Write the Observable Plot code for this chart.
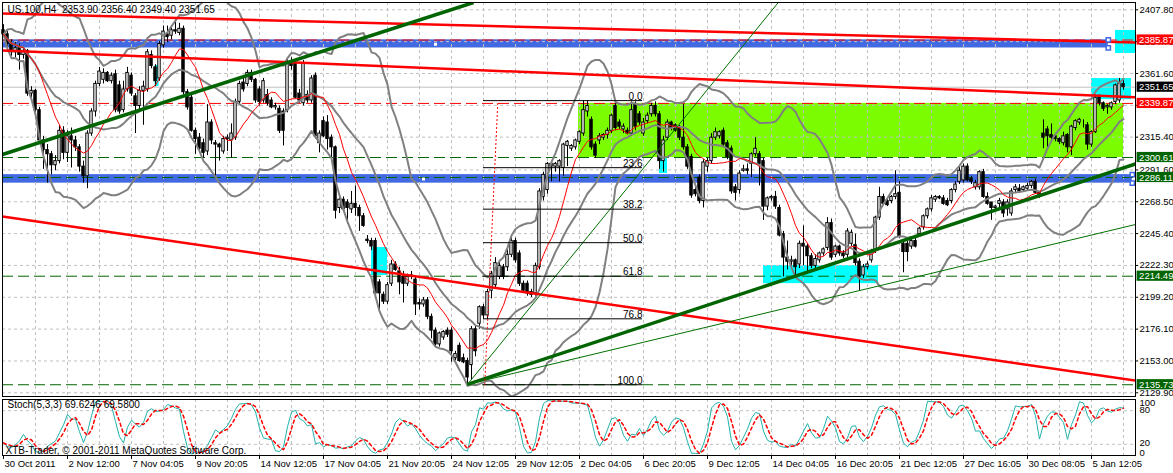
<!DOCTYPE html>
<html>
<head>
<meta charset="utf-8">
<script src="https://cdn.jsdelivr.net/npm/d3@7"></script>
<script src="https://cdn.jsdelivr.net/npm/@observablehq/plot@0.6"></script>
<style>
  body { margin: 0; background: #fff; }
  #chart { position: relative; width: 1173px; height: 473px; overflow: hidden; }
  #chart svg { position: absolute; left: 0; display: block; }
</style>
</head>
<body>
<div id="chart"></div>
<script>
// US.100 H4 candles (one per 4px column)
const opens = [
  2393,2390,2383,2377,2380,2375,2378,2347,2349,2335, 2313,2306,2303,2295,2298,2320,2304,2316,2313,2308,
  2294,2287,2318,2334,2354,2357,2362,2356,2361,2353, 2335,2350,2360,2345,2338,2349,2350,2375,2366,2358,
  2382,2390,2389,2393,2391,2394,2348,2344,2320,2315, 2311,2305,2326,2311,2310,2305,2314,2313,2315,2341,
  2355,2354,2362,2357,2350,2342,2346,2342,2337,2336, 2334,2335,2370,2369,2347,2340,2346,2342,2360,2311,
  2327,2326,2315,2308,2264,2270,2268,2263,2267,2264, 2258,2241,2240,2240,2210,2201,2196,2209,2223,2218,
  2214,2209,2215,2212,2195,2194,2197,2185,2175,2165, 2170,2175,2175,2155,2164,2155,2153,2150,2176,2180,
  2192,2186,2204,2208,2214,2221,2221,2230,2240,2231, 2209,2209,2201,2202,2221,2272,2277,2296,2294,2294,
  2293,2309,2307,2308,2312,2318,2334,2328,2310,2313, 2315,2317,2320,2338,2326,2321,2320,2318,2339,2332,
  2318,2327,2332,2338,2332,2298,2315,2326,2324,2322, 2315,2308,2301,2277,2286,2269,2294,2298,2315,2316,
  2320,2311,2307,2279,2277,2291,2292,2296,2303,2303, 2298,2265,2271,2272,2264,2245,2228,2225,2226,2223,
  2238,2236,2229,2222,2226,2231,2235,2253,2230,2236, 2231,2230,2238,2237,2225,2215,2221,2226,2233,2257,
  2272,2269,2269,2272,2275,2238,2238,2236,2240,2245, 2250,2258,2263,2270,2272,2271,2269,2269,2277,2283,
  2284,2294,2285,2279,2279,2290,2272,2268,2264,2267, 2268,2263,2260,2277,2278,2277,2278,2280,2283,2275,
  2318,2321,2317,2316,2314,2311,2317,2308,2322,2326, 2326,2324,2310,2319,2344,2340,2337,2337,2341,2342,
  2353.9
];
const highs = [
  2397,2392,2386,2384,2383,2380,2379,2352,2350,2337, 2316,2310,2305,2302,2324,2323,2320,2322,2316,2310,
  2298,2320,2336,2356,2366,2365,2363,2362,2364,2356, 2356,2366,2362,2347,2352,2356,2379,2378,2368,2385,
  2396,2396,2396,2401,2398,2396,2350,2346,2322,2318, 2314,2339,2328,2313,2311,2316,2317,2325,2343,2356,
  2358,2364,2364,2358,2352,2358,2350,2344,2340,2338, 2336,2372,2373,2371,2350,2371,2349,2360,2362,2320,
  2330,2331,2317,2309,2272,2272,2270,2276,2280,2266, 2260,2244,2242,2242,2212,2203,2210,2226,2225,2221,
  2218,2216,2218,2214,2198,2199,2199,2187,2177,2174, 2175,2177,2177,2160,2166,2158,2155,2178,2178,2193,
  2194,2205,2218,2228,2226,2223,2236,2242,2242,2233, 2211,2211,2205,2224,2278,2290,2297,2298,2297,2299,
  2311,2313,2310,2314,2320,2342,2342,2330,2312,2318, 2318,2322,2332,2341,2328,2325,2322,2341,2341,2334,
  2329,2333,2340,2341,2334,2316,2328,2327,2325,2324, 2339,2310,2303,2279,2288,2299,2300,2318,2322,2320,
  2322,2313,2309,2281,2291,2295,2296,2304,2315,2305, 2300,2272,2273,2276,2266,2247,2240,2229,2227,2240,
  2251,2238,2231,2230,2232,2235,2257,2256,2237,2237, 2233,2249,2248,2245,2227,2223,2225,2234,2258,2279,
  2274,2271,2273,2291,2283,2240,2240,2241,2242,2250, 2259,2264,2273,2273,2273,2273,2271,2278,2283,2295,
  2296,2296,2287,2284,2291,2292,2275,2268,2266,2271, 2270,2270,2278,2281,2281,2280,2282,2284,2285,2276,
  2328,2323,2325,2318,2315,2319,2318,2324,2328,2329, 2328,2326,2320,2346,2346,2341,2339,2341,2354,2358,
  2356.4
];
const lows = [
  2388,2381,2374,2373,2364,2372,2345,2344,2333,2311, 2292,2282,2288,2291,2296,2299,2297,2293,2305,2290,
  2282,2278,2316,2330,2352,2354,2355,2354,2333,2332, 2333,2348,2345,2318,2335,2324,2348,2365,2352,2356,
  2380,2384,2386,2390,2389,2346,2335,2319,2303,2305, 2300,2302,2310,2286,2298,2303,2305,2300,2313,2339,
  2348,2352,2355,2340,2338,2340,2338,2336,2335,2318, 2309,2333,2364,2343,2340,2338,2340,2340,2314,2304,
  2315,2306,2298,2256,2260,2261,2252,2260,2258,2247, 2250,2238,2233,2201,2188,2194,2194,2207,2218,2201,
  2195,2207,2212,2186,2190,2192,2183,2169,2163,2163, 2168,2170,2152,2153,2152,2151,2136,2139,2156,2176,
  2183,2183,2198,2205,2212,2212,2218,2228,2224,2207, 2203,2200,2199,2200,2219,2269,2274,2283,2290,2283,
  2287,2294,2305,2306,2310,2316,2330,2306,2300,2310, 2313,2314,2318,2320,2321,2318,2317,2316,2320,2324,
  2316,2325,2330,2330,2292,2290,2313,2320,2319,2313, 2306,2292,2271,2272,2267,2264,2290,2296,2313,2314,
  2308,2299,2274,2269,2274,2290,2288,2286,2301,2280, 2255,2262,2269,2263,2243,2214,2219,2220,2214,2220,
  2222,2216,2220,2220,2224,2229,2233,2226,2228,2229, 2227,2228,2236,2222,2204,2213,2219,2224,2231,2255,
  2266,2265,2267,2270,2242,2217,2225,2234,2235,2243, 2248,2256,2261,2268,2270,2266,2265,2267,2275,2281,
  2282,2283,2281,2277,2277,2271,2266,2255,2262,2264, 2257,2258,2258,2275,2275,2276,2276,2278,2274,2271,
  2307,2308,2313,2312,2310,2309,2304,2302,2320,2324, 2322,2306,2308,2318,2338,2334,2332,2335,2339,2340,
  2349.4
];
const closes = [
  2390,2383,2377,2380,2375,2378,2347,2349,2335,2313, 2306,2303,2295,2298,2320,2304,2316,2313,2308,2294,
  2287,2318,2334,2354,2363,2362,2356,2360,2335,2334, 2350,2362,2347,2338,2349,2352,2377,2367,2356,2383,
  2392,2388,2393,2392,2394,2348,2337,2320,2314,2307, 2304,2326,2313,2310,2308,2314,2315,2318,2341,2354,
  2350,2362,2357,2342,2341,2356,2340,2337,2338,2320, 2320,2370,2367,2344,2342,2369,2342,2358,2316,2318,
  2316,2314,2308,2262,2270,2263,2264,2267,2264,2258, 2251,2240,2236,2202,2202,2196,2208,2223,2219,2210,
  2209,2214,2214,2194,2194,2197,2185,2175,2165,2173, 2174,2172,2160,2158,2153,2152,2141,2176,2160,2192,
  2186,2203,2216,2224,2222,2214,2230,2240,2226,2209, 2204,2202,2203,2222,2276,2288,2296,2294,2296,2298,
  2310,2312,2309,2313,2319,2335,2338,2308,2302,2316, 2317,2320,2331,2322,2323,2323,2318,2335,2323,2326,
  2326,2331,2338,2332,2298,2313,2326,2322,2320,2315, 2308,2294,2273,2274,2269,2297,2298,2315,2319,2319,
  2310,2301,2276,2275,2289,2292,2291,2303,2307,2296, 2265,2271,2272,2265,2244,2228,2225,2226,2221,2238,
  2236,2229,2222,2227,2231,2234,2253,2228,2236,2231, 2229,2247,2246,2224,2214,2221,2223,2232,2257,2272,
  2267,2266,2272,2274,2243,2232,2232,2240,2236,2249, 2258,2263,2271,2272,2271,2267,2266,2277,2281,2291,
  2294,2284,2283,2282,2290,2272,2267,2264,2265,2269, 2260,2268,2276,2279,2276,2279,2280,2283,2275,2272,
  2315,2316,2315,2314,2312,2316,2308,2323,2327,2328, 2326,2310,2319,2344,2340,2336,2338,2340,2353,2354,
  2351.65
];

// axis labels
const timeLabels = ["30 Oct 2011", "2 Nov 12:00", "7 Nov 04:05", "9 Nov 20:05", "14 Nov 12:05", "17 Nov 04:05",
  "21 Nov 20:05", "24 Nov 12:05", "29 Nov 12:05", "2 Dec 04:05", "6 Dec 20:05", "9 Dec 12:05",
  "14 Dec 04:05", "16 Dec 20:05", "21 Dec 12:05", "27 Dec 16:05", "30 Dec 08:05", "5 Jan 12:05"];
const labelBars = [0, 16, 32, 48, 64, 80, 96, 112, 128, 144, 160, 176, 192, 208, 224, 240, 256, 272];
const priceTicks = [2407.80, 2384.70, 2361.60, 2338.50, 2315.40, 2291.60, 2268.50, 2245.40,
  2222.30, 2199.20, 2176.10, 2153.00, 2129.90];
const stochTicks = [100, 80, 20, 0];

// horizontal lines and price markers
const redLevels = [2385.87, 2339.87];
const greenLevels = [2300.61, 2286.11, 2214.49, 2135.73];
const bidPrice = 2351.65;

// drawn objects (bar index, price)
const limeBox = [{i1: 143.75, i2: 280, p1: 2339.87, p2: 2300.61}];
const blueBands = [
  {i1: -0.25, i2: 276.2, p1: 2386.0, p2: 2380.1},
  {i1: -0.25, i2: 282.2, p1: 2288.2, p2: 2282.0}
];
const bandEnds = [{i: 276.2, p: 2386.0}, {i: 276.2, p: 2380.1}, {i: 282.2, p: 2288.2}, {i: 282.2, p: 2282.0}];
const bandMids = [{i: 108, p: 2382.8}, {i: 105, p: 2285.0}];
const cyanBoxes = [
  {i1: 37.9, i2: 38.9, p1: 2367.4, p2: 2352.1},
  {i1: 92, i2: 96, p1: 2235.3, p2: 2215.0},
  {i1: 164, i2: 166, p1: 2300.6, p2: 2289.0},
  {i1: 190, i2: 218.75, p1: 2222.2, p2: 2209.1},
  {i1: 272, i2: 282, p1: 2357.9, p2: 2342.6},
  {i1: 278, i2: 283, p1: 2392.8, p2: 2376.1}
];
const redTrends = [
  {i1: -0.25, p1: 2405.1, i2: 283, p2: 2384.1},
  {i1: -0.25, p1: 2378.3, i2: 283, p2: 2344.4},
  {i1: -0.25, p1: 2257.8, i2: 283, p2: 2138.8}
];
const greenThick = [
  {i1: -0.25, p1: 2302.8, i2: 117.5, p2: 2413.1},
  {i1: 116, p1: 2136, i2: 283, p2: 2296}
];
const greenThin = [
  {i1: 116, p1: 2136, i2: 283, p2: 2252},
  {i1: 116, p1: 2136, i2: 193.7, p2: 2413.1}
];
const fibHigh = 2341.9, fibLow = 2135.73;
const fibRatios = [0, 0.236, 0.382, 0.5, 0.618, 0.768, 1];
const fibLabels = ["0.0", "23.6", "38.2", "50.0", "61.8", "76.8", "100.0"];

const headerText = "US.100,H4  2353.90 2356.40 2349.40 2351.65";
const stochText = "Stoch(5,3,3) 69.6246 69.5800";
const copyText = "XTB-Trader, © 2001-2011 MetaQuotes Software Corp.";

const bars = closes.map((c, i) => ({i, o: opens[i], h: highs[i], l: lows[i], c}));
const fib = fibRatios.map((r, k) => ({p: fibHigh - r * (fibHigh - fibLow), label: fibLabels[k]}));

// bollinger 20,2 (population deviation like MT4)
const bbDev = v => { const m = d3.mean(v); return 2 * Math.sqrt(d3.mean(v, d => (d - m) ** 2)); };
const bbUp = v => d3.mean(v) + bbDev(v);
const bbDn = v => d3.mean(v) - bbDev(v);

// stochastic 5,3,3
const lo5 = i => d3.min(lows.slice(Math.max(0, i - 4), i + 1));
const hi5 = i => d3.max(highs.slice(Math.max(0, i - 4), i + 1));
const num = closes.map((c, i) => c - lo5(i));
const den = closes.map((c, i) => hi5(i) - lo5(i));
const stoch = closes.map((c, i) => {
  const a = Math.max(0, i - 2);
  return {i, k: 100 * d3.sum(num.slice(a, i + 1)) / d3.sum(den.slice(a, i + 1))};
});

const font = '"Liberation Sans", Arial, sans-serif';
const grid = {stroke: "#c0c0c0", strokeDasharray: "3,3"};
const gridBars = d3.range(8, 281, 8);
const xDom = [-0.25, 283];

const main = Plot.plot({
  width: 1173, height: 398,
  marginLeft: 2, marginRight: 38, marginTop: 2, marginBottom: 2,
  x: {domain: xDom, axis: null},
  y: {domain: [2127.2, 2413.1], axis: null},
  style: {fontFamily: font, fontSize: "10px", background: "white", overflow: "visible"},
  marks: [
    Plot.rect(limeBox, {x1: "i1", x2: "i2", y1: "p1", y2: "p2", fill: "#7cfc00"}),
    Plot.rect(blueBands, {x1: "i1", x2: "i2", y1: "p1", y2: "p2", fill: "#4169e1"}),
    Plot.rect(cyanBoxes, {x1: "i1", x2: "i2", y1: "p1", y2: "p2", fill: "#00ffff"}),
    Plot.ruleY(priceTicks, grid),
    Plot.ruleX(gridBars, grid),
    Plot.ruleY([bidPrice], {stroke: "#c0c0c0"}),
    Plot.ruleY(redLevels, {stroke: "#ff0000", strokeDasharray: "11,5"}),
    Plot.ruleY(greenLevels, {stroke: "#006400", strokeDasharray: "11,5"}),
    // candles
    Plot.ruleX(bars, {x: "i", y1: "l", y2: "h", stroke: "black"}),
    Plot.rect(bars, {filter: d => d.c >= d.o, x1: d => d.i - 0.3, x2: d => d.i + 0.3, y1: "o", y2: "c", fill: "white", stroke: "black"}),
    Plot.rect(bars, {filter: d => d.c < d.o, x1: d => d.i - 0.3, x2: d => d.i + 0.3, y1: "o", y2: "c", fill: "black", stroke: "black"}),
    // indicators
    Plot.lineY(bars, Plot.windowY({k: 20, anchor: "end", reduce: bbUp}, {x: "i", y: "c", stroke: "#808080", strokeWidth: 2, clip: true})),
    Plot.lineY(bars, Plot.windowY({k: 20, anchor: "end", reduce: "mean"}, {x: "i", y: "c", stroke: "#808080", strokeWidth: 2, clip: true})),
    Plot.lineY(bars, Plot.windowY({k: 20, anchor: "end", reduce: bbDn}, {x: "i", y: "c", stroke: "#808080", strokeWidth: 2, clip: true})),
    Plot.lineY(bars, Plot.windowY({k: 10, anchor: "end", reduce: "mean"}, {x: "i", y: "c", stroke: "#ff0000", strokeWidth: 1, clip: true})),
    // trend lines
    Plot.link(redTrends, {x1: "i1", y1: "p1", x2: "i2", y2: "p2", stroke: "#ff0000", strokeWidth: 2.5, clip: true}),
    Plot.link(greenThick, {x1: "i1", y1: "p1", x2: "i2", y2: "p2", stroke: "#006400", strokeWidth: 3.5, clip: true}),
    Plot.link(greenThin, {x1: "i1", y1: "p1", x2: "i2", y2: "p2", stroke: "#007000", strokeWidth: 1, clip: true}),
    // fibonacci
    Plot.ruleY(fib, {y: "p", x1: 120, x2: 159.75, stroke: "black"}),
    Plot.text(fib, {y: "p", x: 159.75, text: "label", textAnchor: "end", lineAnchor: "bottom", dy: -1, fill: "black"}),
    Plot.link([{i1: 120.3, p1: fibLow, i2: 123.6, p2: fibHigh}], {x1: "i1", y1: "p1", x2: "i2", y2: "p2", stroke: "#ff0000", strokeDasharray: "2,2"}),
    // object handles
    Plot.dot(bandMids, {x: "i", y: "p", symbol: "square", r: 1.7, fill: "white"}),
    Plot.dot(bandEnds, {x: "i", y: "p", symbol: "square", r: 2.4, fill: "white", stroke: "#4169e1"}),
    Plot.frame({stroke: "black"}),
    // right price axis
    Plot.ruleY(priceTicks, {x1: 283, x2: 283.8, stroke: "black"}),
    Plot.text(priceTicks, {x: 283, y: d => d, text: d => d.toFixed(2), dx: 4, textAnchor: "start", fontSize: 9.5, fill: "black"}),
    Plot.rect(redLevels, {x1: 283.4, x2: 295, y1: d => d - 3.7, y2: d => d + 3.7, fill: "#ff0000"}),
    Plot.rect([bidPrice], {x1: 283.4, x2: 295, y1: d => d - 3.7, y2: d => d + 3.7, fill: "black"}),
    Plot.rect(greenLevels, {x1: 283.4, x2: 295, y1: d => d - 3.7, y2: d => d + 3.7, fill: "#006400"}),
    Plot.text([...redLevels, bidPrice, ...greenLevels], {x: 283.4, y: d => d, text: d => d.toFixed(2), dx: 2, textAnchor: "start", fontSize: 9.5, fill: "white"}),
    Plot.text([headerText], {frameAnchor: "top-left", dx: 5, dy: 3, fill: "black"})
  ]
});

const sub = Plot.plot({
  width: 1173, height: 76,
  marginLeft: 2, marginRight: 38, marginTop: 2, marginBottom: 18,
  x: {domain: xDom, axis: null},
  y: {domain: [0, 100], axis: null},
  style: {fontFamily: font, fontSize: "10px", background: "white", overflow: "visible"},
  marks: [
    Plot.ruleY([80, 20], grid),
    Plot.ruleX(gridBars, grid),
    Plot.lineY(stoch, {x: "i", y: "k", stroke: "#20b2aa", strokeWidth: 1}),
    Plot.lineY(stoch, Plot.windowY({k: 3, anchor: "end", reduce: "mean"}, {x: "i", y: "k", stroke: "#ff0000", strokeDasharray: "3,3"})),
    Plot.frame({stroke: "black"}),
    Plot.text([stochText], {frameAnchor: "top-left", dx: 5, dy: 1, fill: "black"}),
    Plot.text([copyText], {frameAnchor: "bottom-left", dx: 3, dy: -2, fill: "black"}),
    Plot.text(stochTicks.slice(0, 1), {x: 283, y: d => d, text: d => String(d), dx: 4, textAnchor: "start", lineAnchor: "top", fontSize: 9.5, fill: "black"}),
    Plot.text(stochTicks.slice(1, 3), {x: 283, y: d => d, text: d => String(d), dx: 4, dy: -1, textAnchor: "start", fontSize: 9.5, fill: "black"}),
    Plot.text(stochTicks.slice(3), {x: 283, y: d => d, text: d => String(d), dx: 4, textAnchor: "start", lineAnchor: "bottom", fontSize: 9.5, fill: "black"}),
    // time axis
    Plot.ruleX(labelBars, {y1: 0, y2: -7, stroke: "black"}),
    Plot.text(labelBars, {x: d => d, y: 0, text: (d, k) => timeLabels[k], dx: 1, dy: 5, lineAnchor: "top", textAnchor: "start", fontSize: 9.5, fill: "black"})
  ]
});

main.style.top = "0px";
sub.style.top = "397px";
document.getElementById("chart").append(main, sub);
</script>
</body>
</html>
